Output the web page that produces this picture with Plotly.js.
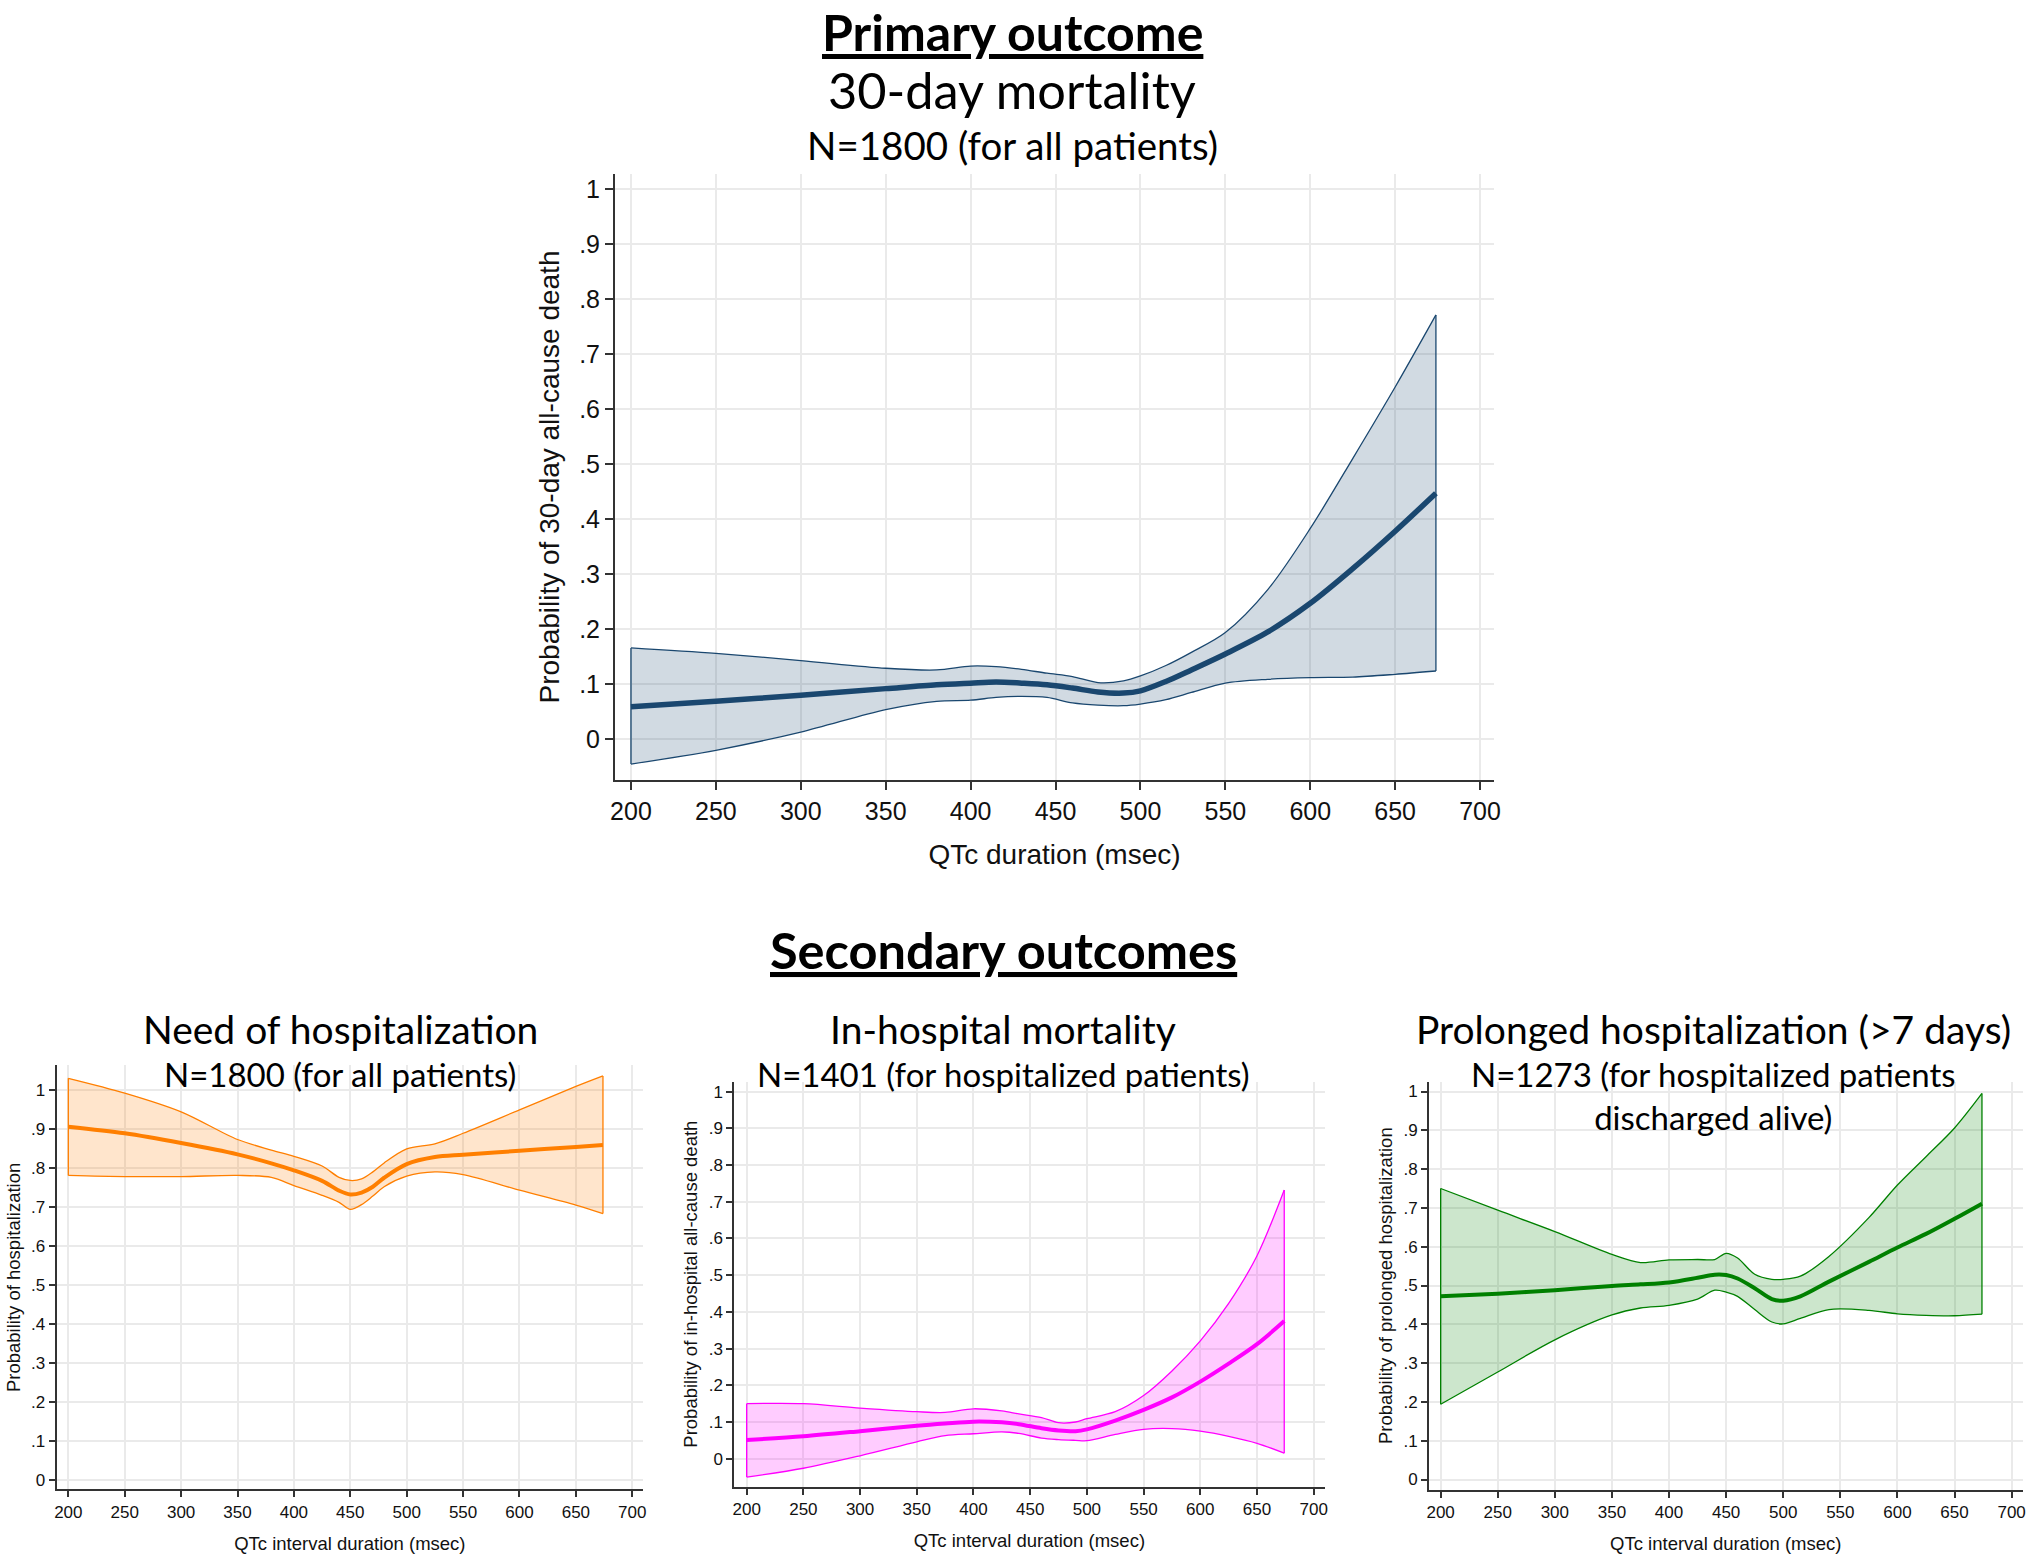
<!DOCTYPE html>
<html>
<head>
<meta charset="utf-8">
<script src="https://cdn.plot.ly/plotly-3.0.1.min.js"></script>
<style>html,body{margin:0;padding:0;background:#fff;}#chart{width:2030px;height:1559px;}</style>
</head>
<body>
<div id="chart"></div>
<script>
// ---------- DATA ----------
const xTickVals = [200, 250, 300, 350, 400, 450, 500, 550, 600, 650, 700];
const xTickText = ['200', '250', '300', '350', '400', '450', '500', '550', '600', '650', '700'];
const yTickVals = [0, 0.1, 0.2, 0.3, 0.4, 0.5, 0.6, 0.7, 0.8, 0.9, 1];
const yTickText = ['0', '.1', '.2', '.3', '.4', '.5', '.6', '.7', '.8', '.9', '1'];

// Primary outcome: 30-day mortality
const mortQtc   = [200, 250, 300, 350, 380, 400, 415, 430, 445, 460, 475, 490, 500, 515, 530, 550, 575, 600, 625, 650, 674];
const mortProb  = [0.059, 0.069, 0.080, 0.092, 0.099, 0.102, 0.104, 0.102, 0.099, 0.093, 0.086, 0.084, 0.088, 0.105, 0.126, 0.155, 0.195, 0.247, 0.310, 0.378, 0.447];
const mortUpper = [0.166, 0.156, 0.143, 0.129, 0.126, 0.133, 0.132, 0.127, 0.120, 0.114, 0.103, 0.106, 0.115, 0.134, 0.158, 0.194, 0.272, 0.383, 0.510, 0.640, 0.771];
const mortLower = [-0.045, -0.020, 0.013, 0.054, 0.069, 0.071, 0.076, 0.078, 0.076, 0.066, 0.062, 0.061, 0.064, 0.072, 0.085, 0.102, 0.109, 0.112, 0.113, 0.118, 0.124];

// Need of hospitalization
const hospQtc   = [200, 250, 300, 350, 380, 400, 425, 440, 450, 460, 470, 480, 500, 525, 550, 600, 650, 674];
const hospProb  = [0.906, 0.889, 0.864, 0.835, 0.812, 0.794, 0.767, 0.742, 0.732, 0.737, 0.752, 0.775, 0.810, 0.828, 0.834, 0.844, 0.854, 0.859];
const hospUpper = [1.030, 0.992, 0.944, 0.873, 0.846, 0.830, 0.805, 0.776, 0.768, 0.772, 0.790, 0.813, 0.849, 0.862, 0.889, 0.949, 1.009, 1.036];
const hospLower = [0.781, 0.778, 0.778, 0.781, 0.776, 0.755, 0.730, 0.712, 0.694, 0.706, 0.728, 0.752, 0.779, 0.790, 0.783, 0.743, 0.705, 0.683];

// In-hospital mortality
const ihmQtc   = [200, 250, 300, 350, 375, 400, 425, 440, 460, 475, 490, 500, 525, 550, 575, 600, 625, 650, 674];
const ihmProb  = [0.051, 0.061, 0.075, 0.090, 0.096, 0.101, 0.099, 0.094, 0.083, 0.077, 0.075, 0.080, 0.104, 0.133, 0.167, 0.210, 0.259, 0.312, 0.375];
const ihmUpper = [0.150, 0.150, 0.138, 0.128, 0.126, 0.136, 0.130, 0.122, 0.112, 0.098, 0.100, 0.109, 0.128, 0.172, 0.239, 0.321, 0.423, 0.553, 0.732];
const ihmLower = [-0.050, -0.026, 0.008, 0.046, 0.063, 0.068, 0.073, 0.069, 0.056, 0.052, 0.050, 0.049, 0.066, 0.080, 0.082, 0.075, 0.061, 0.042, 0.015];

// Prolonged hospitalization (>7 days)
const prolQtc   = [200, 250, 300, 350, 375, 400, 425, 440, 450, 460, 475, 490, 500, 515, 540, 575, 600, 625, 650, 674];
const prolProb  = [0.472, 0.479, 0.488, 0.499, 0.503, 0.508, 0.520, 0.528, 0.527, 0.518, 0.493, 0.465, 0.461, 0.472, 0.510, 0.561, 0.598, 0.633, 0.672, 0.711];
const prolUpper = [0.750, 0.694, 0.639, 0.580, 0.559, 0.566, 0.567, 0.567, 0.583, 0.571, 0.529, 0.516, 0.516, 0.524, 0.575, 0.675, 0.759, 0.832, 0.906, 0.995];
const prolLower = [0.194, 0.277, 0.360, 0.424, 0.442, 0.449, 0.465, 0.488, 0.483, 0.472, 0.438, 0.406, 0.401, 0.415, 0.438, 0.436, 0.427, 0.423, 0.422, 0.426];

// ---------- STYLE ----------
const TITLE_FONT = 'Lato, "Open Sans", sans-serif';
const AXIS_FONT = '"Liberation Sans", Arial, sans-serif';
const W = 2030, H = 1559;

const panels = [
  {x: mortQtc, m: mortProb, u: mortUpper, l: mortLower, line: '#1a476f', fill: 'rgba(26,71,111,0.2)', lw: 5.5, ax: ''},
  {x: hospQtc, m: hospProb, u: hospUpper, l: hospLower, line: 'rgb(255,127,0)', fill: 'rgba(255,127,0,0.2)', lw: 4, ax: '2'},
  {x: ihmQtc, m: ihmProb, u: ihmUpper, l: ihmLower, line: 'rgb(255,0,255)', fill: 'rgba(255,0,255,0.2)', lw: 4, ax: '3'},
  {x: prolQtc, m: prolProb, u: prolUpper, l: prolLower, line: 'rgb(0,128,0)', fill: 'rgba(0,128,0,0.2)', lw: 4, ax: '4'}
];

const traces = [];
panels.forEach(p => {
  const xa = 'x' + p.ax, ya = 'y' + p.ax;
  const n = p.x.length - 1;
  traces.push({x: p.x, y: p.l, xaxis: xa, yaxis: ya, mode: 'lines', type: 'scatter',
    line: {color: p.line, width: 1.3, shape: 'spline', smoothing: 0.9}, hoverinfo: 'skip'});
  traces.push({x: p.x, y: p.u, xaxis: xa, yaxis: ya, mode: 'lines', type: 'scatter', fill: 'tonexty', fillcolor: p.fill,
    line: {color: p.line, width: 1.3, shape: 'spline', smoothing: 0.9}, hoverinfo: 'skip'});
  traces.push({x: [p.x[0], p.x[0], null, p.x[n], p.x[n]], y: [p.l[0], p.u[0], null, p.l[n], p.u[n]],
    xaxis: xa, yaxis: ya, mode: 'lines', type: 'scatter', line: {color: p.line, width: 1.3}, hoverinfo: 'skip'});
  traces.push({x: p.x, y: p.m, xaxis: xa, yaxis: ya, mode: 'lines', type: 'scatter',
    line: {color: p.line, width: p.lw, shape: 'spline', smoothing: 0.9}});
});

function px2x(px) { return px / W; }
function px2y(py) { return 1 - py / H; }

function xAxis(d0, d1, range, anchor, fs, title, tfs, standoff, ticklen) {
  return {domain: [px2x(d0), px2x(d1)], range: range, anchor: anchor,
    tickmode: 'array', tickvals: xTickVals, ticktext: xTickText,
    ticks: 'outside', ticklen: ticklen, tickwidth: 2, tickcolor: '#333',
    showline: true, linecolor: '#333', linewidth: 2, mirror: false,
    showgrid: true, gridcolor: '#eaeaea', gridwidth: 2, zeroline: false,
    tickfont: {family: AXIS_FONT, size: fs, color: '#111'},
    title: {text: title, font: {family: AXIS_FONT, size: tfs, color: '#111'}, standoff: standoff},
    fixedrange: true};
}
function yAxis(d0, d1, range, anchor, fs, title, tfs, standoff, ticklen) {
  return {domain: [px2y(d1), px2y(d0)], range: range, anchor: anchor,
    tickmode: 'array', tickvals: yTickVals, ticktext: yTickText,
    ticks: 'outside', ticklen: ticklen, tickwidth: 2, tickcolor: '#333',
    showline: true, linecolor: '#333', linewidth: 2, mirror: false,
    showgrid: true, gridcolor: '#eaeaea', gridwidth: 2, zeroline: false,
    tickfont: {family: AXIS_FONT, size: fs, color: '#111'},
    title: {text: title, font: {family: AXIS_FONT, size: tfs, color: '#111'}, standoff: standoff},
    fixedrange: true};
}

function ann(text, cx, cy, size, bold, yanchor) {
  return {text: text, x: px2x(cx), y: px2y(cy), xref: 'paper', yref: 'paper',
    xanchor: 'center', yanchor: yanchor || 'middle', showarrow: false,
    font: {family: TITLE_FONT, size: size, color: '#000', weight: bold ? 'bold' : 'normal'}};
}

const layout = {
  width: W, height: H,
  margin: {l: 0, r: 0, t: 0, b: 0, pad: 0},
  paper_bgcolor: '#fff', plot_bgcolor: '#fff',
  showlegend: false,
  xaxis:  xAxis(615, 1494, [190.6, 708.2], 'y', 25, 'QTc duration (msec)', 28, 20, 8),
  yaxis:  yAxis(174, 780, [-0.074, 1.027], 'x', 25, 'Probability of 30-day all-cause death', 28, 11, 8),
  xaxis2: xAxis(56.7, 643, [189.7, 709.5], 'y2', 17, 'QTc interval duration (msec)', 18.5, 16, 6),
  yaxis2: yAxis(1065.4, 1489.4, [-0.024, 1.063], 'x2', 17, 'Probability of hospitalization', 18.5, 6, 6),
  xaxis3: xAxis(734.3, 1324.5, [189.1, 709.5], 'y3', 17, 'QTc interval duration (msec)', 18.5, 16, 6),
  yaxis3: yAxis(1081.7, 1486.6, [-0.076, 1.027], 'x3', 17, 'Probability of in-hospital all-cause death', 18.5, 6, 6),
  xaxis4: xAxis(1429, 2022.5, [189.8, 709.5], 'y4', 17, 'QTc interval duration (msec)', 18.5, 16, 6),
  yaxis4: yAxis(1081.8, 1489.6, [-0.026, 1.025], 'x4', 17, 'Probability of prolonged hospitalization', 18.5, 6, 6),
  annotations: [
    ann('<u>Primary outcome</u>', 1012, 0, 50, true, 'top'),
    ann('30-day mortality', 1012, 89, 50.5, false),
    ann('N=1800 (for all patients)', 1012, 145, 38.5, false),
    ann('<u>Secondary outcomes</u>', 1003, 950, 50.5, true),
    ann('Need of hospitalization', 340, 1029, 39, false),
    ann('N=1800 (for all patients)', 340, 1074, 33, false),
    ann('In-hospital mortality', 1003, 1029, 39, false),
    ann('N=1401 (for hospitalized patients)', 1003, 1074, 33, false),
    ann('Prolonged hospitalization (&gt;7 days)', 1713, 1029, 39, false),
    ann('N=1273 (for hospitalized patients<br>discharged alive)', 1713, 1095, 33, false)
  ]
};

Plotly.newPlot('chart', traces, layout, {staticPlot: true, displayModeBar: false});
</script>
</body>
</html>
